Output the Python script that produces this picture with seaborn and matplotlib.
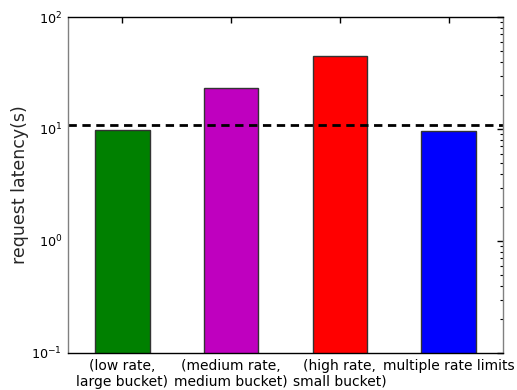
import matplotlib
matplotlib.use("Agg")
import matplotlib.pyplot as plt
import seaborn as sns
import pandas as pd
from matplotlib.ticker import LogLocator

categories = ["(low rate,\nlarge bucket)", "(medium rate,\nmedium bucket)",
              "(high rate,\nsmall bucket)", "multiple rate limits"]
latency = [9.7, 23.0, 45.0, 9.5]
threshold = 10.9
colors = ["#008000", "#bf00bf", "#ff0000", "#0000ff"]

sns.set_style("white")
plt.rcParams['font.family'] = ['DejaVu Sans']

df = pd.DataFrame({"cat": categories, "lat": latency})

fig = plt.figure(figsize=(5.17, 3.9), dpi=100)
ax = fig.add_axes([68/517, 37/390, (503-68)/517, (353-17)/390])

sns.barplot(data=df, x="cat", y="lat", hue="cat", palette=colors, width=0.5,
            edgecolor="#333333", linewidth=1, legend=False, ax=ax, saturation=1)
ax.set_yscale("log")
ax.set_ylim(0.1, 100)
ax.set_xlim(-0.5, 3.5)
ax.axhline(threshold, ls=(0, (3, 2)), color="black", lw=2)

ax.set_xlabel("")
ax.set_ylabel("request latency(s)", fontsize=12.5)
ax.yaxis.set_label_coords(-0.09, 0.5)
ax.yaxis.set_major_locator(LogLocator(base=10))
ax.yaxis.set_minor_locator(LogLocator(base=10, subs=range(2, 10)))
ax.tick_params(axis="both", which="both", direction="in", top=True, right=True,
               colors="black")
ax.tick_params(axis="x", labelsize=10)
ax.tick_params(axis="y", labelsize=9.2)
ax.tick_params(axis="both", which="major", length=4, width=1)
ax.tick_params(axis="y", which="minor", length=2, width=0.8)
ax.tick_params(axis="x", which="major", pad=4)
ax.tick_params(axis="y", which="major", pad=4.3)
for lab in ax.get_xticklabels():
    lab.set_multialignment("center")
for s in ax.spines.values():
    s.set_visible(True)
    s.set_color("black")
    s.set_linewidth(1)
ax.spines["left"].set_color("#808080")
ax.spines["right"].set_color("#808080")

fig.savefig("out.png", dpi=100)
